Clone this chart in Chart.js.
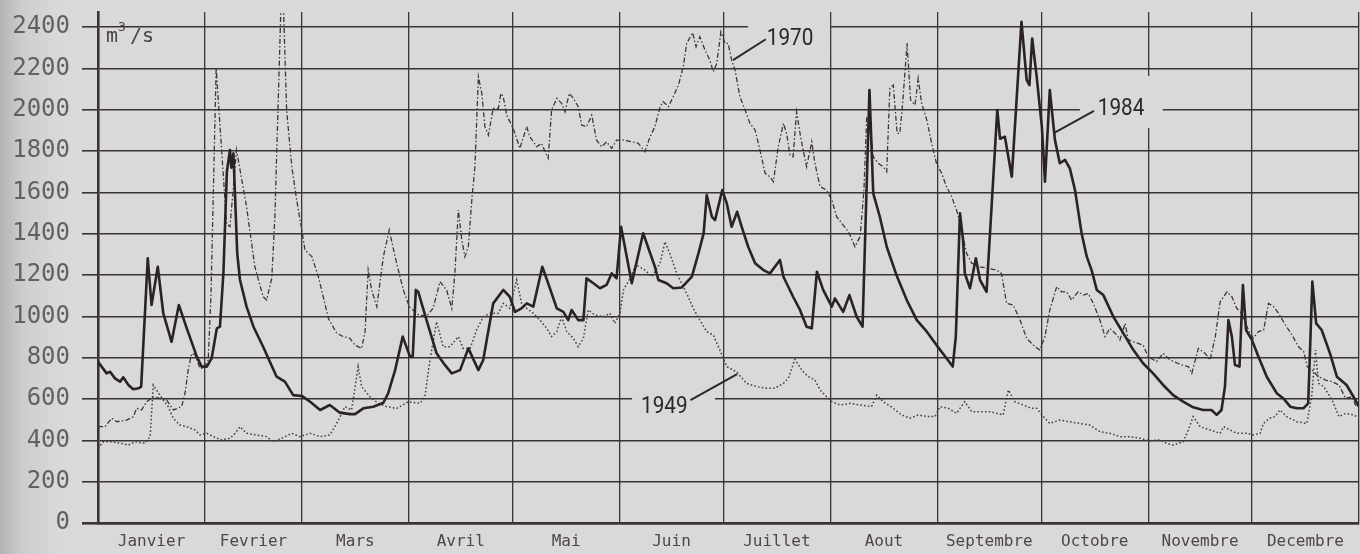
<!DOCTYPE html>
<html lang="fr">
<head>
<meta charset="UTF-8">
<title>Débits journaliers - 1949, 1970, 1984</title>
<script src="https://cdn.jsdelivr.net/npm/chart.js"></script>
<style>
  html, body { margin: 0; padding: 0; }
  body {
    width: 1360px; height: 554px; overflow: hidden;
    background: linear-gradient(to right, #b3b3b5 0px, #cdcdcf 22px, #d9d9db 60px, #d9d9db 100%);
  }
  #cadre { position: relative; width: 1360px; height: 554px; }
</style>
</head>
<body>
<div id="cadre"><canvas id="debits"></canvas></div>
<script>
// Mois et graduations
const mois = ['Janvier', 'Fevrier', 'Mars', 'Avril', 'Mai', 'Juin', 'Juillet',
              'Aout', 'Septembre', 'Octobre', 'Novembre', 'Decembre'];
const debutsMois = [0, 31, 59, 90, 120, 151, 181, 212, 243, 273, 304, 334, 365];
const graduationsY = [0, 200, 400, 600, 800, 1000, 1200, 1400, 1600, 1800, 2000, 2200, 2400];

// Débits : [jour de l'année, m3/s]
const serie1984 = [
  [0,780],[2.5,724],[3.5,732],[4.9,700],[6.4,684],[7.3,705],[8.8,668],[10.2,647],[11.7,652],[12.5,660],
  [14.4,1281],[15.5,1055],[17.3,1240],[18.9,1015],[21.3,877],[23.4,1055],[25.7,942],[28.6,805],[30.0,757],
  [31.5,757],[32.9,797],[34.4,942],[35.3,950],[36.3,1210],[37.3,1700],[38.2,1805],[38.6,1720],[39.2,1789],
  [40.3,1305],[41.1,1176],[43.0,1047],[45.0,950],[47.8,853],[51.7,708],[54.1,684],[56.5,619],[59.0,615],
  [61.4,587],[64.3,547],[67.1,571],[70.0,534],[72.9,527],[74.4,527],[76.8,555],[79.7,563],[82.6,582],
  [84.0,628],[86.0,740],[88.2,902],[90.3,805],[91.1,805],[92.0,1128],[92.7,1119],[95.1,982],[98.0,821],
  [100.4,765],[102.4,724],[104.8,740],[107.2,845],[110.1,740],[111.5,789],[114.4,1063],[117.3,1128],
  [119.2,1095],[120.7,1022],[122.6,1039],[124.1,1063],[126.0,1047],[128.6,1240],[130.3,1160],[132.8,1039],
  [134.7,1022],[136.1,982],[137.1,1031],[139.0,982],[140.5,982],[141.4,1184],[143.4,1160],[145.3,1136],
  [147.2,1152],[148.7,1208],[150.1,1184],[151.4,1434],[154.5,1160],[157.8,1402],[161.2,1240],[162.2,1176],
  [164.6,1160],[166.5,1136],[169.0,1140],[171.9,1192],[173.8,1305],[175.3,1402],[176.2,1587],[177.7,1482],
  [178.6,1466],[180.7,1611],[182.0,1547],[183.4,1434],[185.0,1506],[186.3,1434],[188.2,1337],[190.2,1257],
  [192.6,1224],[194.5,1208],[197.4,1273],[198.4,1192],[201.2,1095],[203.2,1031],[205.1,950],[206.6,942],
  [208.1,1216],[209.9,1128],[212.4,1047],[213.3,1087],[215.7,1022],[217.5,1103],[219.6,998],[221.3,950],
  [223.3,2095],[224.4,1595],[226.3,1482],[228.3,1337],[231.2,1196],[234.1,1079],[237.0,982],[239.9,926],
  [242.7,861],[245.6,797],[247.4,757],[248.3,902],[249.5,1499],[250.4,1369],[250.9,1208],[252.4,1136],
  [254.1,1281],[255.3,1176],[257.2,1119],[260.3,1999],[261.1,1860],[262.5,1869],[264.5,1676],[267.3,2426],
  [268.8,2144],[269.6,2119],[270.4,2345],[271.7,2160],[273.2,1918],[274.1,1652],[275.5,2095],[277.0,1853],
  [278.4,1741],[279.9,1757],[281.3,1716],[282.8,1611],[284.7,1402],[286.2,1289],[287.6,1224],[289.1,1128],
  [291.0,1103],[293.9,998],[296.8,918],[299.7,837],[302.5,773],[305.4,724],[308.3,668],[311.2,619],
  [314.1,587],[317.0,560],[319.9,547],[322.3,547],[323.8,523],[325.2,547],[326.2,660],[327.2,982],
  [328.2,902],[329.1,765],[330.4,757],[331.4,1152],[332.3,934],[334.0,886],[335.9,805],[338.3,708],
  [341.2,628],[343.1,603],[345.1,563],[347.0,555],[348.9,555],[350.3,579],[351.5,1168],[352.6,966],
  [354.2,934],[356.6,821],[358.6,708],[361.4,668],[363.4,611],[365,563]
];

const serie1970 = [
  [0,466],[2.0,466],[4.0,507],[5.4,490],[8.3,498],[10.2,514],[11.2,555],[12.6,547],[14.1,587],[16.0,611],
  [19.9,595],[21.8,547],[24.2,563],[25.2,628],[26.1,740],[27.1,821],[28.1,813],[29.5,749],[30.7,749],
  [31.9,789],[32.7,1100],[34.2,2200],[37.2,1450],[38.2,1434],[40.1,1805],[43.0,1531],[45.4,1240],
  [47.8,1095],[48.8,1079],[50.3,1184],[51.2,1482],[53.3,2700],[54.6,1998],[56.1,1724],[57.5,1563],
  [59.0,1418],[59.9,1321],[61.9,1289],[63.8,1192],[66.7,990],[69.1,918],[71.0,902],[72.9,894],[74.4,861],
  [76.3,845],[77.3,926],[78.2,1224],[79.2,1128],[80.7,1047],[82.6,1289],[84.3,1418],[86.0,1289],[87.4,1192],
  [88.4,1128],[90.1,1047],[92.6,1010],[95.1,1000],[97.0,1040],[99.0,1168],[100.9,1128],[102.4,1039],
  [103.3,1208],[104.3,1515],[105.3,1369],[106.2,1289],[107.2,1337],[108.2,1563],[109.1,1724],[110.1,2160],
  [111.1,2079],[112.0,1918],[113.0,1877],[114.4,2007],[115.9,2007],[116.6,2079],[117.3,2063],[118.3,1974],
  [119.7,1926],[120.7,1886],[122.1,1813],[124.1,1918],[125.0,1869],[127.0,1821],[128.4,1837],[129.4,1797],
  [130.3,1765],[131.3,1999],[132.8,2055],[134.2,2031],[135.2,1990],[136.4,2079],[137.6,2055],[139.0,2015],
  [140.0,1926],[141.4,1918],[142.9,1974],[144.3,1853],[145.8,1821],[147.2,1845],[148.7,1813],[150.1,1853],
  [152.1,1853],[154.5,1845],[156.4,1837],[158.3,1797],[159.8,1869],[161.2,1918],[162.7,2015],[163.6,2039],
  [165.1,2015],[166.5,2063],[168.0,2119],[169.4,2208],[170.4,2321],[172.1,2373],[173.1,2305],[174.2,2353],
  [175.7,2289],[177.1,2240],[178.1,2184],[179.1,2224],[180.3,2377],[181.5,2321],[182.4,2321],[183.4,2240],
  [184.4,2192],[185.8,2063],[187.3,1999],[188.7,1934],[190.2,1902],[191.6,1805],[193.1,1692],[194.5,1676],
  [195.5,1652],[196.9,1821],[198.4,1934],[199.3,1886],[200.3,1781],[201.2,1773],[202.2,1990],[203.2,1886],
  [204.1,1805],[205.1,1724],[206.6,1845],[207.5,1741],[209.0,1628],[210.9,1611],[212.4,1563],[213.8,1482],
  [215.3,1450],[217.2,1410],[219.1,1337],[220.6,1386],[221.7,1611],[222.5,1966],[223.6,1900],[224.4,1773],
  [225.8,1741],[227.3,1724],[228.3,1700],[229.2,2103],[230.2,2119],[231.3,1886],[232.1,1886],[232.9,2031],
  [234.2,2321],[235.2,2047],[236.5,2023],[237.4,2152],[238.4,2031],[239.9,1950],[241.3,1837],[242.7,1741],
  [244.2,1692],[245.6,1628],[247.1,1579],[248.5,1515],[250.0,1418],[251.4,1305],[252.9,1257],[255.3,1240],
  [257.7,1232],[260.1,1224],[261.5,1208],[263.0,1063],[264.9,1055],[266.9,982],[268.8,894],[270.7,861],
  [272.6,837],[274.1,902],[275.5,1031],[277.5,1144],[278.9,1119],[280.4,1119],[281.8,1079],[283.7,1119],
  [285.2,1103],[286.6,1111],[288.1,1063],[290.0,982],[291.5,902],[292.9,942],[294.9,910],[295.8,886],
  [297.3,966],[298.2,886],[299.7,877],[302.5,861],[304.0,805],[306.4,781],[308.3,821],[310.3,789],
  [313.7,765],[315.6,757],[316.6,724],[318.5,845],[320.5,821],[321.9,789],[323.4,902],[324.8,1071],
  [326.8,1119],[328.2,1095],[329.6,1039],[331.0,1015],[333.0,934],[334.4,894],[335.9,926],[337.4,934],
  [338.8,1063],[340.3,1047],[341.7,1015],[343.7,958],[345.6,910],[347.5,853],[349.0,829],[350.0,757],
  [351.4,740],[353.3,708],[355.3,692],[357.2,684],[359.2,668],[361.1,603],[363.0,611],[364.0,571],[365,579]
];

const serie1949 = [
  [0,361],[1.5,393],[4.0,393],[6.4,386],[8.8,377],[10.7,393],[13.6,386],[15.1,418],[16.0,668],[17.9,619],
  [18.9,595],[20.3,563],[21.8,507],[23.7,474],[25.7,466],[28.1,450],[29.5,426],[31.5,434],[33.4,418],
  [35.8,402],[38.2,410],[39.7,434],[41.1,466],[43.0,434],[45.9,426],[48.8,418],[50.7,393],[53.2,410],
  [56.1,434],[58.5,418],[61.4,434],[64.3,418],[67.1,426],[69.1,482],[71.5,563],[73.4,547],[75.3,757],
  [76.3,660],[78.7,611],[81.1,579],[83.6,563],[86.5,555],[89.8,587],[93.2,579],[94.6,611],[96.1,789],
  [98.0,974],[99.9,853],[101.9,853],[104.3,902],[105.7,845],[107.7,845],[109.6,934],[111.5,998],[113.5,1015],
  [115.9,1015],[117.3,1063],[119.2,1039],[121.2,1176],[122.6,1063],[124.1,1039],[126.0,1015],[127.9,982],
  [129.9,942],[131.3,902],[132.8,926],[134.2,998],[135.7,926],[137.6,894],[139.0,853],[140.5,894],
  [141.9,1031],[143.8,1007],[146.3,998],[148.2,1015],[149.6,966],[151.1,1015],[152.1,1128],[154.0,1184],
  [155.7,1250],[158.3,1224],[160.3,1192],[162.7,1257],[164.1,1361],[165.6,1300],[167.5,1208],[170.4,1111],
  [172.3,1039],[174.2,982],[176.2,926],[178.1,910],[180.0,837],[182.0,757],[184.8,732],[187.7,676],
  [190.6,660],[193.5,652],[195.9,652],[198.4,676],[199.8,700],[201.7,792],[203.7,740],[205.6,708],
  [207.5,692],[209.0,644],[210.9,611],[212.4,587],[214.8,571],[217.7,579],[220.6,571],[223.9,563],
  [225.4,619],[227.3,587],[230.2,555],[232.6,523],[235.0,507],[237.4,523],[239.9,515],[242.3,515],
  [243.7,563],[246.1,555],[248.5,531],[250.9,587],[252.9,539],[255.3,539],[258.2,539],[262.0,523],
  [263.5,644],[265.4,587],[267.8,571],[270.2,555],[271.7,555],[273.6,515],[275.5,482],[278.4,498],
  [281.3,490],[284.2,482],[287.1,474],[290.0,442],[292.9,434],[295.8,418],[298.7,418],[301.6,410],
  [304.5,398],[307.4,402],[309.3,386],[311.2,377],[314.1,393],[315.6,450],[317.0,515],[319.0,466],
  [321.9,450],[324.8,434],[325.8,466],[327.7,450],[329.6,434],[332.5,434],[334.4,426],[336.4,434],
  [337.3,482],[339.2,507],[340.7,515],[342.1,547],[344.1,515],[347.0,490],[349.9,482],[351.3,611],
  [352.4,837],[353.3,676],[354.8,660],[357.2,595],[359.2,515],[361.1,531],[363.5,523],[365,507]
];

const fond = '#d9d9db';
const encre = '#3b3235';

const milieuxMois = mois.map((m, i) => (debutsMois[i] + debutsMois[i + 1]) / 2);
const ticksX = debutsMois.concat(milieuxMois).sort((a, b) => a - b);

// Etiquettes des années, placées en unités du graphique
const etiquettes = [
  { texte: '1970', jour: 193.6, debit: 2313, trait: [[183.8, 2240], [193.3, 2341]], masque: [188.1, 211.9, 2449, 2279] },
  { texte: '1984', jour: 289.4, debit: 1974, trait: [[276.5, 1886], [288.3, 1994]], masque: [284.2, 308.2, 2163, 1911] },
  { texte: '1949', jour: 157.2, debit: 532,  trait: [[171.5, 595], [185.0, 721]],   masque: [154.6, 178.6, 663, 498] }
];

const annotations = {
  id: 'annotations',
  beforeDatasetsDraw(chart) {
    const { ctx, scales: { x, y } } = chart;
    ctx.save();
    ctx.fillStyle = fond;
    etiquettes.forEach(e => {
      const x0 = x.getPixelForValue(e.masque[0]), x1 = x.getPixelForValue(e.masque[1]);
      const y0 = y.getPixelForValue(e.masque[2]), y1 = y.getPixelForValue(e.masque[3]);
      ctx.fillRect(x0, y0, x1 - x0, y1 - y0);
    });
    ctx.restore();
  },
  afterDatasetsDraw(chart) {
    const { ctx, scales: { x, y } } = chart;
    ctx.save();
    ctx.fillStyle = '#2e2729';
    ctx.strokeStyle = '#2e2729';
    ctx.lineWidth = 2;
    ctx.textBaseline = 'alphabetic';
    etiquettes.forEach(e => {
      ctx.beginPath();
      ctx.moveTo(x.getPixelForValue(e.trait[0][0]), y.getPixelForValue(e.trait[0][1]));
      ctx.lineTo(x.getPixelForValue(e.trait[1][0]), y.getPixelForValue(e.trait[1][1]));
      ctx.stroke();
      ctx.save();
      ctx.translate(x.getPixelForValue(e.jour), y.getPixelForValue(e.debit));
      ctx.scale(0.9, 1);
      ctx.font = '23px Roboto';
      ctx.fillText(e.texte, 0, 0);
      ctx.restore();
    });
    // unité
    const ux = x.getPixelForValue(2.3), uy = y.getPixelForValue(2327);
    ctx.fillStyle = '#4a4245';
    ctx.font = '20px "DejaVu Sans Mono"';
    ctx.fillText('m', ux, uy);
    ctx.fillText('/s', ux + 24, uy);
    ctx.font = '13px "DejaVu Sans Mono"';
    ctx.fillText('3', ux + 12, uy - 11);
    ctx.restore();
  }
};

const ctx = document.getElementById('debits').getContext('2d');
new Chart(ctx, {
  type: 'line',
  data: {
    datasets: [
      {
        label: '1984',
        data: serie1984.map(p => ({ x: p[0], y: p[1] })),
        borderColor: '#2a2225',
        borderWidth: 2.6,
        borderJoinStyle: 'round'
      },
      {
        label: '1970',
        data: serie1970.map(p => ({ x: p[0], y: p[1] })),
        borderColor: '#3d3538',
        borderWidth: 1.3,
        borderDash: [5, 2.2, 1.5, 2.2]
      },
      {
        label: '1949',
        data: serie1949.map(p => ({ x: p[0], y: p[1] })),
        borderColor: '#463e41',
        borderWidth: 1.5,
        borderDash: [1.6, 2.2]
      }
    ]
  },
  options: {
    responsive: true,
    maintainAspectRatio: false,
    animation: false,
    devicePixelRatio: 1,
    layout: { padding: { top: 12, right: 1, left: 0, bottom: 0 } },
    elements: { point: { radius: 0 }, line: { tension: 0, fill: false } },
    plugins: { legend: { display: false }, tooltip: { enabled: false } },
    scales: {
      x: {
        type: 'linear',
        min: 0,
        max: 365,
        afterBuildTicks: s => { s.ticks = ticksX.map(v => ({ value: v })); },
        afterFit: s => { s.height = 31; s.paddingLeft = 0; s.paddingRight = 0; },
        grid: {
          drawTicks: false,
          color: c => (c.tick && debutsMois.includes(c.tick.value)) ? encre : 'rgba(0,0,0,0)',
          lineWidth: 1.3
        },
        border: { color: encre, width: 2.6 },
        ticks: {
          autoSkip: false,
          maxRotation: 0,
          padding: 9,
          color: '#4f4649',
          font: { family: '"DejaVu Sans Mono"', size: 16 },
          callback: v => {
            const i = milieuxMois.indexOf(v);
            return i >= 0 ? mois[i] : '';
          }
        }
      },
      y: {
        min: 0,
        max: 2473,
        afterBuildTicks: s => { s.ticks = graduationsY.map(v => ({ value: v })); },
        afterFit: s => { s.width = 98; s.paddingTop = 0; s.paddingBottom = 0; },
        grid: {
          color: encre,
          lineWidth: c => (c.tick && c.tick.value === 0) ? 2.6 : 1.6,
          tickLength: 16
        },
        border: { color: encre, width: 2.6 },
        ticks: {
          padding: 12,
          color: '#626062',
          font: { family: '"DejaVu Sans Mono"', size: 24, lineHeight: 1 },
          callback: v => String(v)
        }
      }
    }
  },
  plugins: [annotations]
});
</script>
</body>
</html>
